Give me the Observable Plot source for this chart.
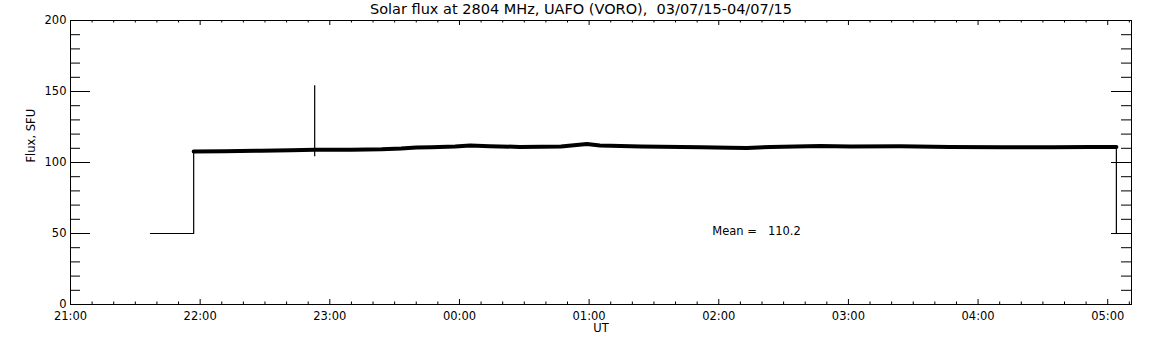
<!DOCTYPE html>
<html>
<head>
<meta charset="utf-8">
<script src="https://cdn.jsdelivr.net/npm/d3@7"></script>
<script src="https://cdn.jsdelivr.net/npm/@observablehq/plot@0.6"></script>
<style>
  html, body { margin: 0; padding: 0; background: #fff; }
  #chart svg { display: block; }
</style>
</head>
<body>
<div id="chart"></div>
<script>
// ---- data ----
const title = "Solar flux at 2804 MHz, UAFO (VORO),\u00a0\u00a003/07/15-04/07/15";
const yLabel = "Flux, SFU";
const xLabel = "UT";
const meanLabel = "Mean =\u00a0\u00a0\u00a0110.2";
const meanPos = ["01:57", 51.5];

// thin trace: calibration step before/after the observation
const stepTimes = ["21:37", "21:57", "21:57"];
const stepFlux  = [50, 50, 107.7];
const endTimes  = ["05:04", "05:04"];
const endFlux   = [111.0, 50];

// main observed flux (band centre)
const bandTimes = ["21:57","22:11","22:28","22:42","22:53","23:10","23:24","23:33","23:40","23:47",
                   "23:58","00:05","00:14","00:28","00:47","00:59","01:05","01:24","01:52","02:05",
                   "02:13","02:24","02:47","03:01","03:24","03:47","04:11","04:34","04:52","05:04"];
const bandFlux  = [107.7,108.0,108.3,108.6,108.9,109.0,109.3,109.8,110.5,110.8,
                   111.2,112.0,111.5,111.0,111.2,113.0,112.0,111.2,110.8,110.4,
                   110.2,111.0,111.6,111.3,111.5,111.0,110.7,110.8,110.9,111.0];

// spike
const spikeTime = "22:53";
const spikeRange = [104, 154];

// axes
const xDomain = ["21:00", "05:11"];
const xMajorTicks = ["21:00","22:00","23:00","00:00","01:00","02:00","03:00","04:00","05:00"];
const xMinorStepMin = 10;
const yDomain = [0, 200];
const yMajorTicks = [0, 50, 100, 150, 200];
const yMinorTicks = [10,20,30,40,60,70,80,90,110,120,130,140,160,170,180,190];

// ---- helpers ----
function t(s) {
  const [h, m] = s.split(":").map(Number);
  const day = h >= 12 ? 3 : 4;
  return new Date(Date.UTC(2015, 6, day, h, m));
}
const fmt = d3.utcFormat("%H:%M");

const W = 1152, H = 345;
const mL = 70, mR = 21, mT = 20, mB = 41;
const pw = W - mL - mR, ph = H - mT - mB;

const x0 = t(xDomain[0]), x1 = t(xDomain[1]);
const xMinor = d3.utcMinute.every(xMinorStepMin).range(x0, x1)
  .filter(d => d.getUTCMinutes() !== 0);
const xMajor = xMajorTicks.map(t);

const step = stepTimes.map((s, i) => ({time: t(s), flux: stepFlux[i]}));
const end = endTimes.map((s, i) => ({time: t(s), flux: endFlux[i]}));
const band = bandTimes.map((s, i) => ({time: t(s), flux: bandFlux[i]}));

const font = "'DejaVu Sans', sans-serif";

const chart = Plot.plot({
  width: W, height: H,
  marginLeft: mL, marginRight: mR, marginTop: mT, marginBottom: mB,
  style: {fontFamily: font, fontSize: "11.5px", background: "#fff", color: "#000"},
  x: {type: "utc", domain: [x0, x1], axis: null},
  y: {domain: yDomain, axis: null},
  marks: [
    Plot.frame({stroke: "#000", strokeWidth: 1}),
    // y ticks left & right
    Plot.tickY(yMajorTicks, {y: d => d, insetRight: pw - 20, stroke: "#000"}),
    Plot.tickY(yMinorTicks, {y: d => d, insetRight: pw - 10, stroke: "#000"}),
    Plot.tickY(yMajorTicks, {y: d => d, insetLeft: pw - 20, stroke: "#000"}),
    Plot.tickY(yMinorTicks, {y: d => d, insetLeft: pw - 10, stroke: "#000"}),
    // x ticks bottom & top
    Plot.tickX(xMajor, {x: d => d, insetTop: ph - 5, stroke: "#000"}),
    Plot.tickX(xMinor, {x: d => d, insetTop: ph - 2.5, stroke: "#000"}),
    Plot.tickX(xMajor, {x: d => d, insetBottom: ph - 5, stroke: "#000"}),
    Plot.tickX(xMinor, {x: d => d, insetBottom: ph - 2.5, stroke: "#000"}),
    // tick labels
    Plot.text(yMajorTicks, {y: d => d, text: d => String(d), frameAnchor: "left", dx: -4, textAnchor: "end", fill: "#000"}),
    Plot.text(xMajor, {x: d => d, text: d => fmt(d), frameAnchor: "bottom", dy: 12, lineAnchor: "middle", fill: "#000"}),
    // axis labels & title
    Plot.text([yLabel], {text: d => d, frameAnchor: "left", dx: -39, rotate: -90, fill: "#000"}),
    Plot.text([xLabel], {text: d => d, frameAnchor: "bottom", dy: 24, lineAnchor: "middle", fill: "#000"}),
    Plot.text([title], {text: d => d, frameAnchor: "top", dx: -20, dy: -11, lineAnchor: "middle", fontSize: 14.5, fill: "#000"}),
    // data
    Plot.line(step, {x: "time", y: "flux", stroke: "#000", strokeWidth: 1.2, curve: "linear"}),
    Plot.line(end, {x: "time", y: "flux", stroke: "#000", strokeWidth: 1.2}),
    Plot.ruleX([spikeTime], {x: d => t(d), y1: spikeRange[0], y2: spikeRange[1], stroke: "#000", strokeWidth: 1.2}),
    Plot.line(band, {x: "time", y: "flux", stroke: "#000", strokeWidth: 4, strokeLinejoin: "round"}),
    Plot.text([meanLabel], {x: () => t(meanPos[0]), y: () => meanPos[1], text: d => d, textAnchor: "start", fill: "#000"})
  ]
});
document.getElementById("chart").appendChild(chart);
</script>
</body>
</html>
